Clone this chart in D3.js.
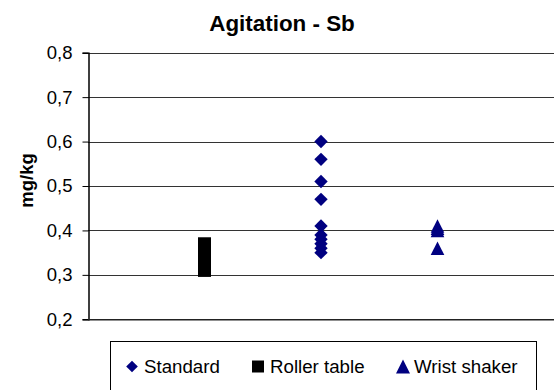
<!DOCTYPE html>
<html>
<head>
<meta charset="utf-8">
<script src="https://cdn.jsdelivr.net/npm/d3@7"></script>
<style>
  html, body { margin: 0; padding: 0; background: #fff; }
  svg { display: block; font-family: "Liberation Sans", Arial, sans-serif; }
  svg text { font-family: "Liberation Sans", Arial, sans-serif; }
</style>
</head>
<body>
<svg id="chart" width="554" height="390"></svg>
<script>
// ---- data ----
const title = "Agitation - Sb";
const yLabel = "mg/kg";
const seriesNames = ["Standard", "Roller table", "Wrist shaker"];
const seriesX = [2, 1, 3];
const standardValues = [0.60, 0.56, 0.51, 0.47, 0.41, 0.39, 0.38, 0.37, 0.36, 0.35];
const rollerValues = [0.37, 0.365, 0.36, 0.35, 0.34, 0.33, 0.32, 0.31];
const wristValues = [0.41, 0.405, 0.40, 0.36];
const yTicks = [0.2, 0.3, 0.4, 0.5, 0.6, 0.7, 0.8];

const seriesValues = [standardValues, rollerValues, wristValues];
const colors = ["#000080", "#000000", "#000080"];

// custom marker shapes (size = half-width in px)
const diamond = { draw(ctx, r) { ctx.moveTo(0, -r); ctx.lineTo(r, 0); ctx.lineTo(0, r); ctx.lineTo(-r, 0); ctx.closePath(); } };
const square = { draw(ctx, r) { ctx.rect(-r, -r, 2 * r, 2 * r); } };
const triangle = { draw(ctx, r) { ctx.moveTo(0, -r); ctx.lineTo(r, r); ctx.lineTo(-r, r); ctx.closePath(); } };
const shapes = [diamond, square, triangle];

const svg = d3.select("#chart");
const plotL = 88, plotR = 554, plotT = 52.7, plotB = 319.3;

const x = d3.scaleLinear().domain([0, 4]).range([plotL, plotR]);
const y = d3.scaleLinear().domain([0.2, 0.8]).range([plotB, plotT]);

// gridlines
svg.append("g")
  .selectAll("line")
  .data(yTicks.slice(1))
  .join("line")
  .attr("x1", plotL).attr("x2", plotR)
  .attr("y1", d => Math.round(y(d)) + 0.5).attr("y2", d => Math.round(y(d)) + 0.5)
  .attr("stroke", "#333").attr("stroke-width", 1);

// y axis
const yAxis = d3.axisLeft(y).tickValues(yTicks).tickSize(6).tickPadding(10)
  .tickFormat(d => d3.format(".1f")(d).replace(".", ","));
const gy = svg.append("g").attr("transform", `translate(${plotL + 0.5},0)`).call(yAxis);
gy.select(".domain").attr("stroke", "#000").attr("stroke-width", 1.5);
gy.selectAll(".tick line").attr("stroke", "#000");
gy.selectAll(".tick text").attr("font-size", 18.5).attr("fill", "#000")
  .attr("font-family", "'Liberation Sans', Arial, sans-serif");

// x axis line
svg.append("line")
  .attr("x1", plotL).attr("x2", plotR)
  .attr("y1", y(0.2) + 0.5).attr("y2", y(0.2) + 0.5)
  .attr("stroke", "#222").attr("stroke-width", 1.5);

// points
const symR = [6.7, 6.5, 6.8];
seriesValues.forEach((vals, i) => {
  svg.append("g").selectAll("path")
    .data(vals)
    .join("path")
    .attr("transform", d => `translate(${x(seriesX[i])},${y(d)})`)
    .attr("d", d3.symbol().type(shapes[i]).size(symR[i]))
    .attr("fill", colors[i]);
});

// title
svg.append("text")
  .attr("x", 282).attr("y", 31)
  .attr("text-anchor", "middle")
  .attr("font-size", 22.4).attr("font-weight", "bold")
  .text(title);

// y label
svg.append("text")
  .attr("transform", `translate(33,${180.5}) rotate(-90)`)
  .attr("text-anchor", "middle")
  .attr("font-size", 18.5).attr("font-weight", "bold")
  .text(yLabel);

// legend
const lg = svg.append("g");
lg.append("rect")
  .attr("x", 110.5).attr("y", 341.5).attr("width", 426).attr("height", 60)
  .attr("fill", "#fff").attr("stroke", "#000").attr("stroke-width", 1);
const legSym = [132, 258, 403];
const legText = [144, 270, 414];
const legR = [5.8, 6, 7];
seriesNames.forEach((name, i) => {
  lg.append("path")
    .attr("transform", `translate(${legSym[i]},${366.5})`)
    .attr("d", d3.symbol().type(shapes[i]).size(legR[i]))
    .attr("fill", colors[i]);
  lg.append("text")
    .attr("x", legText[i]).attr("y", 373)
    .attr("font-size", 18.7)
    .text(name);
});
</script>
</body>
</html>
